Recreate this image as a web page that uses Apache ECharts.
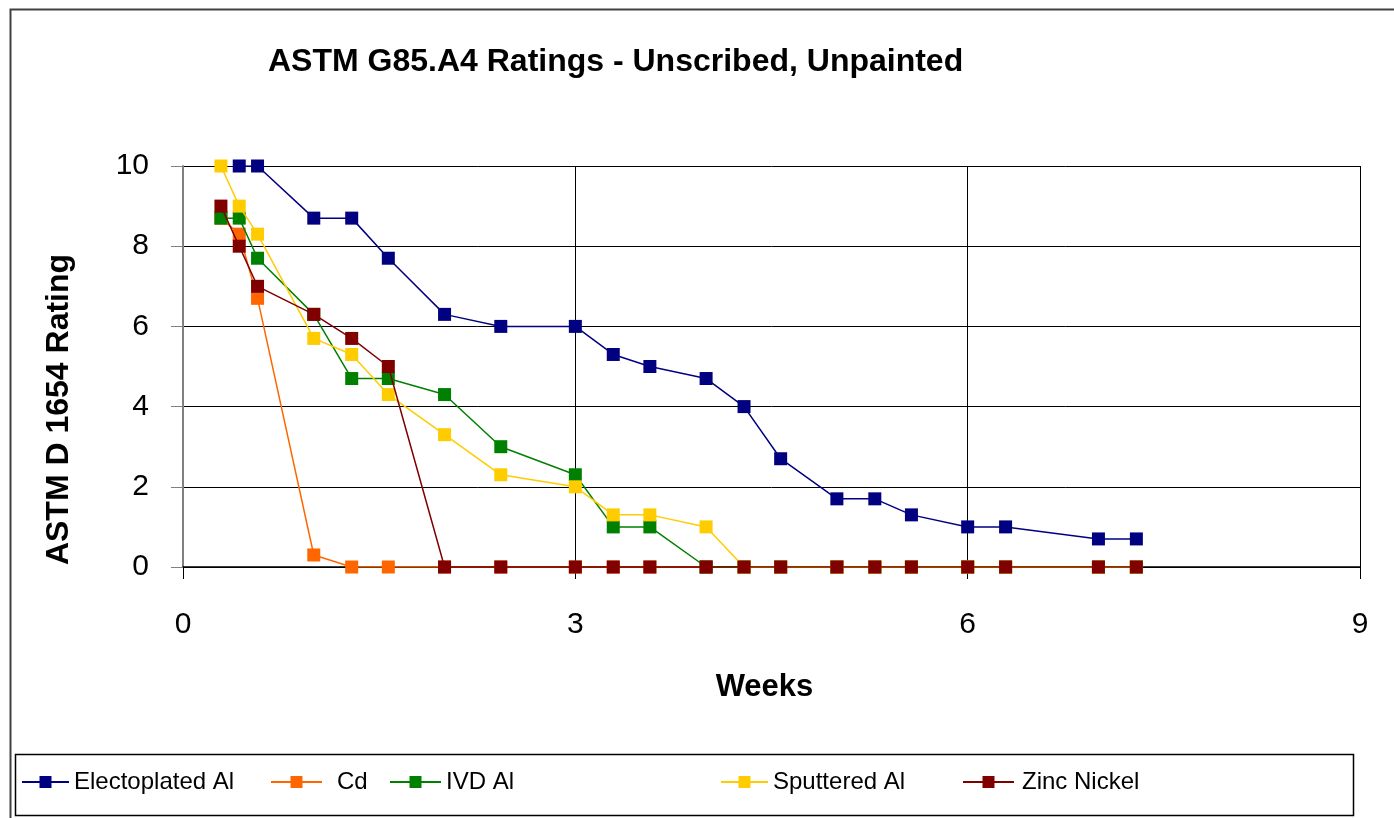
<!DOCTYPE html>
<html>
<head>
<meta charset="utf-8">
<script src="https://cdn.jsdelivr.net/npm/echarts@6/dist/echarts.min.js"></script>
<style>
  html, body { margin: 0; padding: 0; background: #fff; }
  #chart { width: 1394px; height: 818px; }
</style>
</head>
<body>
<div id="chart"></div>
<script>
// weeks of exposure (days / 7)
const weeks = [0.29, 0.43, 0.57, 1, 1.29, 1.57, 2, 2.43, 3, 3.29, 3.57, 4, 4.29, 4.57, 5, 5.29, 5.57, 6, 6.29, 7, 7.29]

const electroplated = [null, 10, 10, 8.7, 8.7, 7.7, 6.3, 6, 6, 5.3, 5, 4.7, 4, 2.7, 1.7, 1.7, 1.3, 1, 1, 0.7, 0.7]
const cd = [8.7, 8.3, 6.7, 0.3, 0, 0, 0, 0, 0, 0, 0, 0, 0, 0, 0, 0, 0, 0, 0, 0, 0]
const ivd = [8.7, 8.7, 7.7, 6.3, 4.7, 4.7, 4.3, 3, 2.3, 1, 1, 0, 0, 0, 0, 0, 0, 0, 0, 0, 0]
const sputtered = [10, 9, 8.3, 5.7, 5.3, 4.3, 3.3, 2.3, 2, 1.3, 1.3, 1, 0, 0, 0, 0, 0, 0, 0, 0, 0]
const zincNickel = [9, 8, 7, 6.3, 5.7, 5, 0, 0, 0, 0, 0, 0, 0, 0, 0, 0, 0, 0, 0, 0, 0]

const seriesNames = ['Electoplated Al', 'Cd', 'IVD Al', 'Sputtered Al', 'Zinc Nickel']
const seriesValues = [electroplated, cd, ivd, sputtered, zincNickel]
const colors = ['#000080', '#FF6600', '#008000', '#FFCC00', '#800000']

const font = '"Liberation Sans", Arial, sans-serif'

// pair week with value, skip missing points
function toPoints(vals) {
  return weeks.map((w, i) => [w, vals[i]]).filter(p => p[1] !== null)
}

// one legend per item so each can sit where the original put it
const legendSpots = [
  { left: 21, itemWidth: 47, pad: 0 },
  { left: 270, itemWidth: 51, pad: 10 },
  { left: 389, itemWidth: 51, pad: 0 },
  { left: 720, itemWidth: 47, pad: 0 },
  { left: 962, itemWidth: 51, pad: 3 }
]

const option = {
  animation: false,
  title: {
    text: 'ASTM G85.A4 Ratings - Unscribed, Unpainted',
    left: 263,
    top: 41,
    textStyle: { fontFamily: font, fontSize: 32, fontWeight: 'bold', color: '#000' }
  },
  legend: legendSpots.map((s, i) => ({
    data: [seriesNames[i]],
    left: s.left,
    top: 770,
    padding: 0,
    itemWidth: s.itemWidth,
    itemHeight: 15,
    textStyle: { fontFamily: font, fontSize: 24, color: '#000', padding: [0, 0, 0, s.pad] },
    selectedMode: false
  })),
  grid: { left: 183, right: 34, top: 166, bottom: 251, containLabel: false },
  xAxis: {
    type: 'value',
    min: 0,
    max: 9,
    interval: 3,
    name: 'Weeks',
    nameLocation: 'middle',
    nameGap: 105,
    nameTextStyle: { fontFamily: font, fontSize: 31, fontWeight: 'bold', color: '#000', padding: [0, 14, 0, 0] },
    axisLine: { show: true, lineStyle: { color: '#000', width: 1.5 } },
    axisTick: { show: true, inside: false, length: 12, lineStyle: { color: '#000', width: 1 } },
    axisLabel: { margin: 43, fontFamily: font, fontSize: 30, color: '#000' },
    splitLine: { show: true, lineStyle: { color: '#000', width: 1 } }
  },
  yAxis: {
    type: 'value',
    min: 0,
    max: 10,
    interval: 2,
    name: 'ASTM D 1654 Rating',
    nameLocation: 'middle',
    nameGap: 108,
    nameTextStyle: { fontFamily: font, fontSize: 32, fontWeight: 'bold', color: '#000', padding: [0, 86, 0, 0] },
    axisLine: { show: true, lineStyle: { color: '#808080', width: 2 } },
    axisTick: { show: true, inside: false, length: 12, lineStyle: { color: '#808080', width: 1 } },
    axisLabel: { margin: 34, fontFamily: font, fontSize: 30, color: '#000' },
    splitLine: { show: true, lineStyle: { color: '#000', width: 1 } }
  },
  series: seriesNames.map((name, i) => ({
    name: name,
    type: 'line',
    data: toPoints(seriesValues[i]),
    symbol: 'rect',
    symbolSize: 13,
    showAllSymbol: true,
    itemStyle: { color: colors[i] },
    lineStyle: { color: colors[i], width: 1.5 },
    emphasis: { disabled: true },
    z: 2 + i
  })),
  graphic: [
    // outer chart frame
    {
      type: 'rect',
      left: 8, top: 7,
      shape: { width: 1400, height: 830 },
      style: { fill: 'none', stroke: '#404040', lineWidth: 2 },
      silent: true
    },
    // legend box
    {
      type: 'rect',
      left: 13, top: 752,
      shape: { width: 1338, height: 61 },
      style: { fill: 'none', stroke: '#000', lineWidth: 1.5 },
      silent: true
    }
  ]
}

const chart = echarts.init(document.getElementById('chart'))
chart.setOption(option)
</script>
</body>
</html>
